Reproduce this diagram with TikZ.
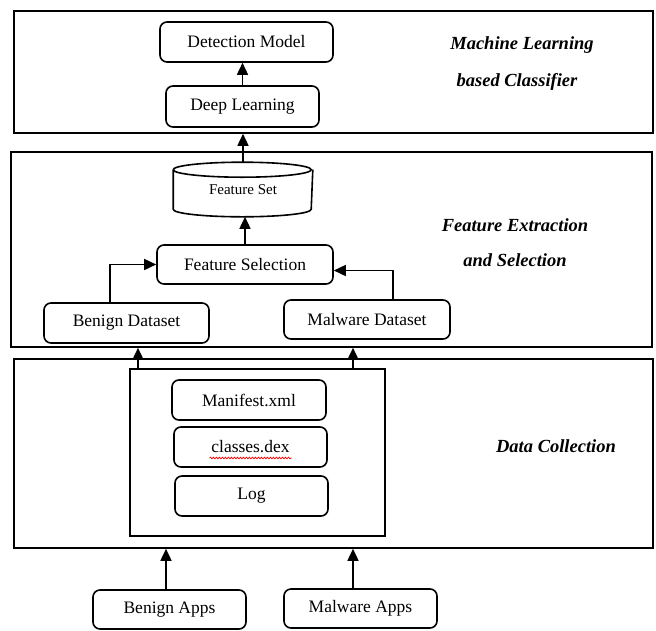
\documentclass[tikz,border=0pt]{standalone}
\usepackage{fontspec}
\setmainfont{Liberation Serif}
\usetikzlibrary{arrows.meta, decorations.pathmorphing}

\begin{document}
\begin{tikzpicture}[x=1pt,y=-1pt,>={Triangle[width=11pt,length=12pt]}, line width=1.6pt,
  box/.style={draw, rounded corners=7pt, inner sep=0pt, font=\fontsize{17.5}{20}\selectfont},
  frame/.style={draw, inner sep=0pt},
  tag/.style={font=\fontsize{18.5}{22}\selectfont\bfseries\itshape}]
  \useasboundingbox (0,0) rectangle (656,630);

  % Frames
  \node[frame, minimum width=639pt, minimum height=122pt] (mlbox)  at (333.5,72)    {};
  \node[frame, minimum width=641pt, minimum height=195pt] (febox)  at (331.5,249.5) {};
  \node[frame, minimum width=639pt, minimum height=189pt] (dcbox)  at (333.5,453.5) {};
  \node[frame, minimum width=255pt, minimum height=167pt] (apkbox) at (257.5,452.5) {};

  % Machine learning part
  \node[box, minimum width=173pt, minimum height=40pt] (detect) at (246.5,42)  {Detection Model};
  \node[box, minimum width=153pt, minimum height=41pt] (deep)   at (242.5,106.5) {Deep Learning};

  % Feature part
  \node[inner sep=0pt, minimum width=138pt, minimum height=53pt,
        font=\fontsize{15}{18}\selectfont] (fset) at (243,189.5) {Feature Set};
  \draw ([yshift=-7.5pt]fset.north west) arc[start angle=180, end angle=540, x radius=69pt, y radius=7.5pt];
  \draw ([yshift=-7.5pt]fset.north west) -- ([yshift=7.5pt]fset.south west)
    arc[start angle=180, end angle=360, x radius=69pt, y radius=7.5pt]
    -- ([yshift=-7.5pt]fset.north east);
  \node[box, minimum width=176pt, minimum height=39pt] (fsel)  at (245,264.5) {Feature Selection};
  \node[box, minimum width=165pt, minimum height=40pt] (bdata) at (126.5,323) {Benign Dataset};
  \node[box, minimum width=166pt, minimum height=39pt] (mdata) at (367,319.5) {Malware Dataset};

  % Data collection part
  \node[box, minimum width=154pt, minimum height=40pt] (manifest) at (249,400)   {Manifest.xml};
  \node[box, minimum width=153pt, minimum height=40pt] (classes)  at (250.5,447) {classes.dex};
  \node[box, minimum width=153pt, minimum height=40pt] (logf)     at (251.5,496) {Log};
  \draw[red, line width=0.7pt, decorate, decoration={snake, amplitude=0.9pt, segment length=3pt}]
    ([xshift=-41pt,yshift=-11pt]classes.center) -- ([xshift=41pt,yshift=-11pt]classes.center);

  \node[box, minimum width=153pt, minimum height=39pt] (bapps) at (169.5,609.5) {Benign Apps};
  \node[box, minimum width=153pt, minimum height=39pt] (mapps) at (360.5,608.5) {Malware Apps};

  % Titles
  \node[tag] (mltitlea) at (522,45)  {Machine Learning};
  \node[tag] (mltitleb) at (517,82)  {based Classifier};
  \node[tag] (fetitlea) at (515,225) {Feature Extraction};
  \node[tag] (fetitleb) at (515,260) {and Selection};
  \node[tag] (dctitle)  at (556,446) {Data Collection};

  % Arrows
  \draw[->] (deep.north) -- (deep.north |- detect.south);
  \draw[->] (fset.north) -- (fset.north |- mlbox.south);
  \draw[->] (fsel.north) -- (fsel.north |- fset.south);
  \draw[->] ([xshift=-16.5pt]bdata.north) |- (fsel.west);
  \draw[->] ([xshift=26pt]mdata.north) |- ([yshift=-6pt]fsel.east);
  \draw[->] ([xshift=11.5pt]bdata.south |- apkbox.north) -- ([xshift=11.5pt]bdata.south |- febox.south);
  \draw[->] ([xshift=-14pt]mdata.south |- apkbox.north) -- ([xshift=-14pt]mdata.south |- febox.south);
  \draw[->] ([xshift=-3.5pt]bapps.north) -- ([xshift=-3.5pt]bapps.north |- dcbox.south);
  \draw[->] ([xshift=-7.5pt]mapps.north) -- ([xshift=-7.5pt]mapps.north |- dcbox.south);
\end{tikzpicture}
\end{document}
